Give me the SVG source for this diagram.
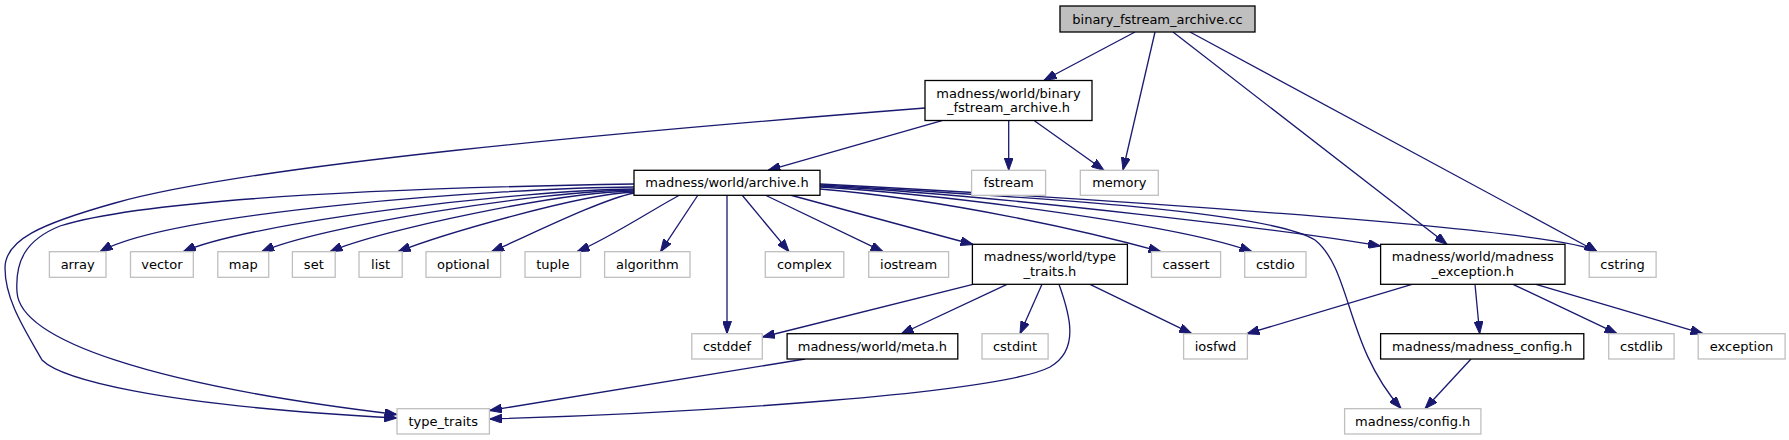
<svg xmlns="http://www.w3.org/2000/svg" width="1789" height="440" viewBox="0 0 1789 440">
<style>
.n rect{fill:#fff;stroke:#000;stroke-width:1.3}
.x rect{fill:#fff;stroke:#bfbfbf;stroke-width:1.3}
.r rect{fill:#bfbfbf;stroke:#000;stroke-width:1.3}
text{font-family:"DejaVu Sans","Liberation Sans",sans-serif;font-size:13px;fill:#000;text-anchor:middle}
.e path{fill:none;stroke:#191970;stroke-width:1.3;marker-end:url(#ah)}
</style>
<defs>
<marker id="ah" viewBox="0 0 12.5 9" refX="12.5" refY="4.5" markerWidth="12.5" markerHeight="9" markerUnits="userSpaceOnUse" orient="auto">
<path d="M0,0 L12.5,4.5 L0,9 z" fill="#191970" stroke="#191970" stroke-width="1"/>
</marker>
</defs>
<rect width="1789" height="440" fill="#fff"/>
<g class="e" id="connectors">
<path d="M1135,32 L1044,80.3"/>
<path d="M1155,32 L1123,170"/>
<path d="M1173,32 L1447,244.3"/>
<path d="M1190,32 L1597,251.7"/>
<path d="M925,108 C620,132 250,165 115,203 C40,224 5,240 5,268 C5,300 25,330 42,360 C60,378 150,405 397,418"/>
<path d="M942,120.7 L768,170.3"/>
<path d="M1008.7,120.7 L1008.7,170.3"/>
<path d="M1034.4,120.7 L1104,170.3"/>
<path d="M634,184 C450,187 160,195 60,226 C25,240 15,262 17,292 C20,340 150,385 397,414.5"/>
<path d="M634,187 C500,188 170,212 100,251.7"/>
<path d="M634,189 C520,190 250,222 183.3,251.7"/>
<path d="M634,190 C540,191 320,226 261.7,251.7"/>
<path d="M634,191 C560,192 380,230 330,251.7"/>
<path d="M634,192 C580,194 440,235 398,251.7"/>
<path d="M634,193 C600,200 530,235 491.5,251.7"/>
<path d="M680,195 C660,205 610,238 577,251.7"/>
<path d="M698,195 L660.5,251.7"/>
<path d="M727,195 L727,333.7"/>
<path d="M742,195 L789,251.7"/>
<path d="M765,195 L883,251.7"/>
<path d="M790,195 L973,244.5"/>
<path d="M820,189 C950,200 1090,232 1161,251.7"/>
<path d="M820,187 C950,195 1180,225 1252,251.7"/>
<path d="M820,186 C1000,195 1300,232 1380.5,246"/>
<path d="M820,184 C1050,196 1560,228 1597,251.7"/>
<path d="M820,185 C1050,198 1270,212 1315,240 C1352,270 1345,345 1401,408.5"/>
<path d="M973,284.3 L762.5,337"/>
<path d="M1007,284.3 L901,334"/>
<path d="M1042,284.3 L1020,333.7"/>
<path d="M1059,284.3 C1070,315 1080,350 1050,367 C1000,393 700,413 489.5,419"/>
<path d="M1090,284.3 L1191.7,333.7"/>
<path d="M805,359 L489.5,410.5"/>
<path d="M1412,284.3 L1247,333.7"/>
<path d="M1475,284.3 L1479.7,333.7"/>
<path d="M1513,284.3 L1617,333.7"/>
<path d="M1536,284.3 L1703,333.7"/>
<path d="M1471,359 L1425,408.7"/>
</g>
<g id="node1" class="r"><rect x="1060" y="6" width="195" height="26"/><text x="1157.5" y="23.5">binary_fstream_archive.cc</text></g>
<g id="node2" class="n"><rect x="925" y="80.5" width="167" height="40"/><text x="1008.5" y="97.5">madness/world/binary</text><text x="1008.5" y="112">_fstream_archive.h</text></g>
<g id="node3" class="n"><rect x="634" y="170.3" width="186" height="25"/><text x="727" y="187.3">madness/world/archive.h</text></g>
<g id="node4" class="x"><rect x="971.6" y="170.3" width="74" height="25"/><text x="1008.6" y="187.3">fstream</text></g>
<g id="node5" class="x"><rect x="1080.3" y="170.3" width="78" height="25"/><text x="1119.3" y="187.3">memory</text></g>
<g id="node6" class="x"><rect x="49.4" y="251.7" width="56.6" height="25.6"/><text x="77.7" y="269">array</text></g>
<g id="node7" class="x"><rect x="130.5" y="251.7" width="62.8" height="25.6"/><text x="161.9" y="269">vector</text></g>
<g id="node8" class="x"><rect x="217.8" y="251.7" width="50.9" height="25.6"/><text x="243.2" y="269">map</text></g>
<g id="node9" class="x"><rect x="292.4" y="251.7" width="42.8" height="25.6"/><text x="313.8" y="269">set</text></g>
<g id="node10" class="x"><rect x="359" y="251.7" width="43.2" height="25.6"/><text x="380.6" y="269">list</text></g>
<g id="node11" class="x"><rect x="426" y="251.7" width="74.6" height="25.6"/><text x="463.3" y="269">optional</text></g>
<g id="node12" class="x"><rect x="525" y="251.7" width="55.6" height="25.6"/><text x="552.8" y="269">tuple</text></g>
<g id="node13" class="x"><rect x="604.6" y="251.7" width="85.4" height="25.6"/><text x="647.3" y="269">algorithm</text></g>
<g id="node14" class="x"><rect x="765.3" y="251.7" width="78.5" height="25.6"/><text x="804.5" y="269">complex</text></g>
<g id="node15" class="x"><rect x="868.7" y="251.7" width="79.9" height="25.6"/><text x="908.6" y="269">iostream</text></g>
<g id="node16" class="n"><rect x="972.4" y="244.3" width="155" height="40"/><text x="1049.9" y="261.3">madness/world/type</text><text x="1049.9" y="275.8">_traits.h</text></g>
<g id="node17" class="x"><rect x="1151.5" y="251.7" width="69.1" height="25.6"/><text x="1186" y="269">cassert</text></g>
<g id="node18" class="x"><rect x="1244.7" y="251.7" width="61.3" height="25.6"/><text x="1275.3" y="269">cstdio</text></g>
<g id="node19" class="n"><rect x="1380.6" y="244.3" width="184.4" height="40"/><text x="1472.8" y="261.3">madness/world/madness</text><text x="1472.8" y="275.8">_exception.h</text></g>
<g id="node20" class="x"><rect x="1589.2" y="251.7" width="66.9" height="25.6"/><text x="1622.6" y="269">cstring</text></g>
<g id="node21" class="x"><rect x="691.8" y="333.7" width="70.5" height="25.3"/><text x="727" y="350.8">cstddef</text></g>
<g id="node22" class="n"><rect x="787.1" y="333.7" width="170.7" height="25.3"/><text x="872.4" y="350.8">madness/world/meta.h</text></g>
<g id="node23" class="x"><rect x="982" y="333.7" width="66.1" height="25.3"/><text x="1015" y="350.8">cstdint</text></g>
<g id="node24" class="x"><rect x="1183.6" y="333.7" width="63.8" height="25.3"/><text x="1215.5" y="350.8">iosfwd</text></g>
<g id="node25" class="n"><rect x="1380.6" y="333.7" width="203.2" height="25.3"/><text x="1482.2" y="350.8">madness/madness_config.h</text></g>
<g id="node26" class="x"><rect x="1608.7" y="333.7" width="65.4" height="25.3"/><text x="1641.4" y="350.8">cstdlib</text></g>
<g id="node27" class="x"><rect x="1698.2" y="333.7" width="86.9" height="25.3"/><text x="1741.6" y="350.8">exception</text></g>
<g id="node28" class="x"><rect x="397" y="408.7" width="92.4" height="25.3"/><text x="443.2" y="425.8">type_traits</text></g>
<g id="node29" class="x"><rect x="1344.6" y="408.7" width="136.3" height="25.3"/><text x="1412.7" y="425.8">madness/config.h</text></g>
</svg>
